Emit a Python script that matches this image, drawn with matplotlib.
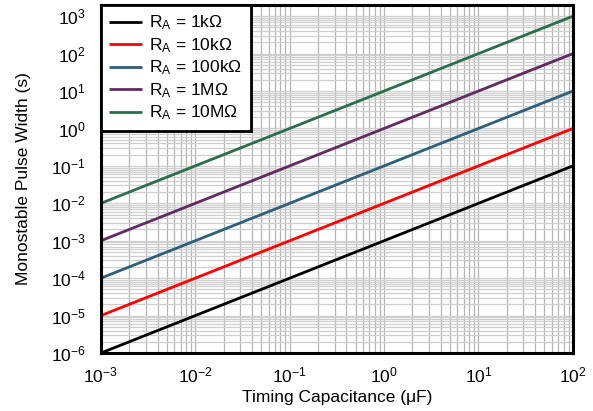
import matplotlib.pyplot as plt

plt.rcParams['font.family'] = ['Liberation Sans', 'DejaVu Sans']
plt.rcParams['mathtext.fontset'] = 'custom'
plt.rcParams['mathtext.rm'] = 'Liberation Sans'
plt.rcParams['mathtext.it'] = 'Liberation Sans'

# timing capacitance endpoints (uF) and pulse width (s) per timing resistor
cap_uF = [1e-3, 1e2]
width_1k = [1e-6, 1e-1]
width_10k = [1e-5, 1e0]
width_100k = [1e-4, 1e1]
width_1M = [1e-3, 1e2]
width_10M = [1e-2, 1e3]

labels = ["1k\u03A9", "10k\u03A9", "100k\u03A9", "1M\u03A9", "10M\u03A9"]
series = [width_1k, width_10k, width_100k, width_1M, width_10M]
colors = ["#000000", "#ff0000", "#2c5f7c", "#622a62", "#2d6e4a"]

fig = plt.figure(figsize=(5.93, 4.11), dpi=100)
ax = fig.add_axes([0.170, 0.141, 0.796, 0.847])

for w, lab, c in zip(series, labels, colors):
    ax.plot(cap_uF, w, color=c, lw=2.0, label=r"R$_\mathrm{A}$ = " + lab,
            solid_capstyle='butt', zorder=3)

ax.set_xscale('log')
ax.set_yscale('log')
ax.set_xlim(1e-3, 1e2)
ax.set_ylim(1e-6, 2e3)
ax.set_yticks([10.0 ** k for k in range(-6, 4)])
ax.set_xticks([10.0 ** k for k in range(-3, 3)])

ax.grid(True, which='both', axis='x', color='#b4b4b4', lw=0.9)
ax.grid(True, which='both', axis='y', color='#cfcfcf', lw=0.9)
ax.tick_params(which='both', length=0, labelsize=12.5, colors='black')
ax.tick_params(axis='y', pad=11)
ax.tick_params(axis='x', pad=9)

for s in ax.spines.values():
    s.set_linewidth(2.2)
    s.set_zorder(5)

ax.set_xlabel("Timing Capacitance (\u03BCF)", fontsize=12.5, labelpad=3)
ax.set_ylabel("Monostable Pulse Width (s)", fontsize=12.5, labelpad=14)

leg = ax.legend(loc='upper left', fontsize=12.5, handlelength=1.9,
                borderaxespad=0, fancybox=False, framealpha=1,
                edgecolor='black', borderpad=0.5, labelspacing=0.22,
                handletextpad=0.4)
leg.get_frame().set_linewidth(2.0)
leg.set_zorder(6)

fig.savefig("out.png", dpi=100)
